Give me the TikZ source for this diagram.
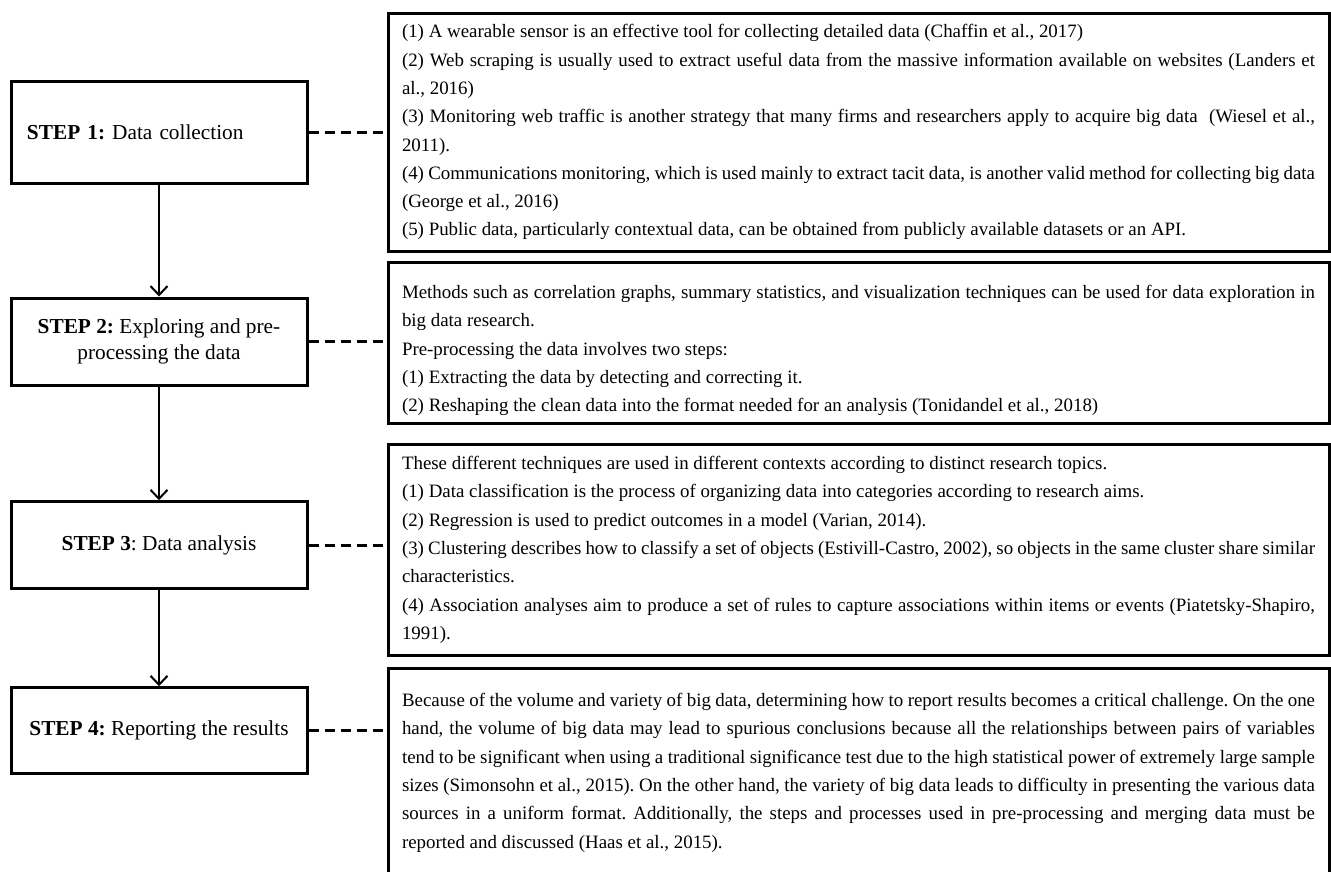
\documentclass[tikz,border=0pt]{standalone}
\usepackage{fontspec}
\setmainfont{Liberation Serif}
\usetikzlibrary{arrows.meta, positioning}
\frenchspacing

\begin{document}
\begin{tikzpicture}[x=1pt, y=-1pt, >={Straight Barb[length=9pt,width=17pt]}]
  \tikzset{
    stepbox/.style={draw, line width=3pt, minimum width=296pt, inner sep=0pt, align=center, font=\fontsize{21.3}{26}\selectfont},
    infobox/.style={draw, line width=3pt, anchor=north west, text width=913pt, inner xsep=14pt, inner ysep=0pt, align=justify, font=\fontsize{18.9}{28.3}\selectfont},
    link/.style={line width=3pt, dash pattern=on 10pt off 6pt},
    flow/.style={->, line width=2pt}
  }
  \useasboundingbox (0,0) rectangle (1331,871);

  % 1. Kroky vlevo
  \node[stepbox, minimum height=102pt, text width=264pt, inner xsep=16pt, align=left] (step1) at (159,132) {\textbf{STEP 1:} Data collection};
  \node[stepbox, minimum height=87pt] (step2) at (159,341.5) {\textbf{STEP 2:} Exploring and pre-\\processing the data};
  \node[stepbox, minimum height=86.5pt] (step3) at (159,545) {\textbf{STEP 3}: Data analysis};
  \node[stepbox, minimum height=85.5pt] (step4) at (159,730.5) {\textbf{STEP 4:} Reporting the results};

  \draw[flow] (step1) -- (step2);
  \draw[flow] (step2) -- (step3);
  \draw[flow] (step3) -- (step4);

  % 2. Popisy vpravo
  \node[infobox, minimum height=238.5pt] (info1) at (386.5,11.5) {(1) A wearable sensor is an effective tool for collecting detailed data (Chaffin et al., 2017)\\
    (2) Web scraping is usually used to extract useful data from the massive information available on websites (Landers et\linebreak al., 2016)\\
    (3) Monitoring web traffic is another strategy that many firms and researchers apply to acquire big data\ \ (Wiesel et al.,\linebreak 2011).\\
    (4) Communications monitoring, which is used mainly to extract tacit data, is another valid method for collecting big data\linebreak (George et al., 2016)\\
    (5) Public data, particularly contextual data, can be obtained from publicly available datasets or an API.};
  \node[infobox, minimum height=160.5pt] (info2) at (386.5,261) {\rule{0pt}{28.7pt}Methods such as correlation graphs, summary statistics, and visualization techniques can be used for data exploration in\linebreak big data research.\\
    Pre-processing the data involves two steps:\\
    (1) Extracting the data by detecting and correcting it.\\
    (2) Reshaping the clean data into the format needed for an analysis (Tonidandel et al., 2018)};
  \node[infobox, minimum height=211.5pt] (info3) at (386.5,442.5) {These different techniques are used in different contexts according to distinct research topics.\\
    (1) Data classification is the process of organizing data into categories according to research aims.\\
    (2) Regression is used to predict outcomes in a model (Varian, 2014).\\
    (3) Clustering describes how to classify a set of objects (Estivill-Castro, 2002), so objects in the same cluster share similar\linebreak characteristics.\\
    (4) Association analyses aim to produce a set of rules to capture associations within items or events (Piatetsky-Shapiro,\linebreak 1991).};
  \node[infobox, minimum height=208.5pt] (info4) at (386.5,667) {Because of the volume and variety of big data, determining how to report results becomes a critical challenge. On the one\linebreak
    hand, the volume of big data may lead to spurious conclusions because all the relationships between pairs of variables\linebreak
    tend to be significant when using a traditional significance test due to the high statistical power of extremely large sample\linebreak
    sizes (Simonsohn et al., 2015). On the other hand, the variety of big data leads to difficulty in presenting the various data\linebreak
    sources in a uniform format. Additionally, the steps and processes used in pre-processing and merging data must be\linebreak
    reported and discussed (Haas et al., 2015).};

  % 3. Carkovane spojnice
  \draw[link] (step1.east) -- (step1.east -| info1.west);
  \draw[link] (step2.east) -- (step2.east -| info2.west);
  \draw[link] (step3.east) -- (step3.east -| info3.west);
  \draw[link] (step4.east) -- (step4.east -| info4.west);

\end{tikzpicture}
\end{document}
